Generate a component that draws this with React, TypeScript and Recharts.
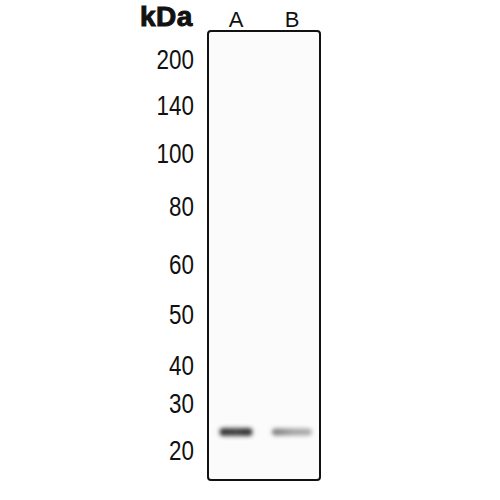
import React from 'react';
import { ComposedChart, XAxis, YAxis, Scatter, ReferenceArea } from 'recharts';

// Lanes
const laneNames = ['A', 'B'];
const lanePositions = [0.5, 1.5];

// Molecular weight markers (kDa) and their migration distance from the top of the blot
const markerLabels = ['200', '140', '100', '80', '60', '50', '40', '30', '20'];
const markerMigration = [28, 74, 122, 175, 233, 283, 334, 372, 419];

// Detected bands
const bandLane = [0, 1];
const bandMigration = [401, 401];
const bandIntensity = [0.95, 0.8];

const BLOT_LENGTH = 449;

const bandStyles = [
  { width: 33, height: 8, left: '#2a2a2a', mid: '#3a3a3a', right: '#262626', blur: 2.2 },
  { width: 40, height: 7, left: '#5a5a5a', mid: '#8a8a8a', right: '#9a9a9a', blur: 2.2 },
];

const bandData = bandLane.map((lane, i) => ({
  x: lanePositions[lane],
  y: bandMigration[i],
  intensity: bandIntensity[i],
  idx: i,
}));

const BandShape = (props: any) => {
  const { cx, cy, payload } = props;
  if (cx == null || cy == null) return null;
  const s = bandStyles[payload.idx];
  const fid = `bandBlur${payload.idx}`;
  const gid = `bandGrad${payload.idx}`;
  return (
    <g>
      <defs>
        <filter id={fid} x="-50%" y="-300%" width="200%" height="700%">
          <feGaussianBlur stdDeviation={s.blur} />
        </filter>
        <linearGradient id={gid} x1="0" y1="0" x2="1" y2="0">
          <stop offset="0%" stopColor={s.left} />
          <stop offset="50%" stopColor={s.mid} />
          <stop offset="100%" stopColor={s.right} />
        </linearGradient>
      </defs>
      <rect
        x={cx - s.width / 2}
        y={cy - s.height / 2}
        width={s.width}
        height={s.height}
        rx={s.height / 2}
        fill={`url(#${gid})`}
        fillOpacity={payload.intensity}
        filter={`url(#${fid})`}
      />
    </g>
  );
};

const MwTick = (props: any) => {
  const { x, y, payload } = props;
  const label = markerLabels[markerMigration.indexOf(payload.value)];
  return (
    <text
      x={x}
      y={y}
      dy="0.36em"
      textAnchor="end"
      fill="#111"
      fontSize={27}
      fontFamily='"Liberation Sans", Arial, sans-serif'
      transform={`translate(${x},0) scale(0.83,1) translate(${-x},0)`}
    >
      {label}
    </text>
  );
};

export default function App() {
  return (
    <div style={{ position: 'absolute', left: 0, top: 0, width: 500, height: 500, background: '#fff' }}>
      <div
        style={{
          position: 'absolute',
          left: 140,
          top: 3,
          fontFamily: '"Liberation Sans", Arial, sans-serif',
          fontWeight: 'bold',
          fontSize: 28,
          lineHeight: '28px',
          letterSpacing: 0.5,
          color: '#111',
          WebkitTextStroke: '1px #111',
        }}
      >
        kDa
      </div>
      <ComposedChart
        width={500}
        height={500}
        margin={{ top: 6, right: 180, bottom: 20, left: 148 }}
      >
        <XAxis
          xAxisId="lane"
          dataKey="x"
          type="number"
          orientation="top"
          domain={[0, 2]}
          ticks={lanePositions}
          tickFormatter={(v: number) => laneNames[lanePositions.indexOf(v)]}
          height={25}
          axisLine={false}
          tickLine={false}
          tickSize={0}
          tickMargin={4}
          tick={{ fill: '#111', fontSize: 22, fontFamily: '"Liberation Sans", Arial, sans-serif' }}
          allowDataOverflow
        />
        <YAxis
          yAxisId="mw"
          dataKey="y"
          type="number"
          domain={[0, BLOT_LENGTH]}
          reversed
          ticks={markerMigration}
          width={60}
          axisLine={false}
          tickLine={false}
          tickSize={0}
          tickMargin={14}
          interval={0}
          tick={<MwTick />}
          allowDataOverflow
        />
        <ReferenceArea
          xAxisId="lane"
          yAxisId="mw"
          x1={0}
          x2={2}
          y1={0}
          y2={BLOT_LENGTH}
          fill="#fbfbfb"
          fillOpacity={1}
          stroke="#111"
          strokeWidth={2}
          radius={3}
          ifOverflow="visible"
        />
        <Scatter
          xAxisId="lane"
          yAxisId="mw"
          data={bandData}
          dataKey="y"
          shape={BandShape}
          isAnimationActive={false}
        />
      </ComposedChart>
    </div>
  );
}
